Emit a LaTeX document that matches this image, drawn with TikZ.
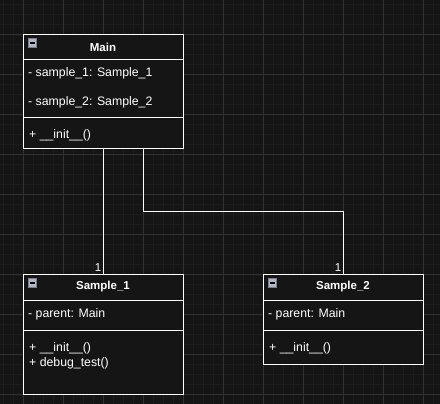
\documentclass[tikz,border=0pt]{standalone}
\usepackage{fontspec}
\setmainfont{Liberation Sans}
\definecolor{bgc}{RGB}{21,21,21}
\definecolor{minorc}{RGB}{28,28,28}
\definecolor{majorc}{RGB}{50,50,50}
\definecolor{iconc}{RGB}{176,182,196}
\definecolor{iconb}{RGB}{120,126,140}
\tikzset{
  classbox/.style={draw=white, line width=1pt, fill=bgc, inner sep=0pt, anchor=north west},
  divider/.style={draw=white, line width=1pt},
  title/.style={text=white, font=\fontsize{11.5}{13}\selectfont\bfseries, inner sep=0pt},
  member/.style={text=white, font=\fontsize{12.3}{14}\selectfont, inner sep=0pt, anchor=west},
  conn/.style={draw=white, line width=1pt},
  mult/.style={text=white, font=\fontsize{11.5}{13}\selectfont, inner sep=0pt},
  icon/.style={draw=iconb, fill=iconc, line width=0.6pt, minimum size=8.5pt, inner sep=0pt},
}
\newcommand{\collapseicon}[2]{%
  \node[icon] (#1) at (#2) {};
  \draw[black, line width=1.6pt] ([xshift=-2.5pt]#1.center) -- ([xshift=2.5pt]#1.center);
}
\begin{document}
\begin{tikzpicture}[x=1pt,y=1pt]
\useasboundingbox (0,0) rectangle (440,-404);
\fill[bgc] (0,0) rectangle (440,-404);
% minor grid
\foreach \x in {3,13,...,433} \draw[minorc, line width=0.8pt] (\x,0) -- (\x,-404);
\foreach \y in {4,14,...,404} \draw[minorc, line width=0.8pt] (0,-\y) -- (440,-\y);
% major grid
\foreach \x in {23,63,...,423} \draw[majorc, line width=0.8pt] (\x,0) -- (\x,-404);
\foreach \y in {34,74,...,394} \draw[majorc, line width=0.8pt] (0,-\y) -- (440,-\y);

% Main
\node[classbox, minimum width=160pt, minimum height=114pt] (main) at (23,-34) {};
\draw[divider] (23,-60) -- (183,-60);
\draw[divider] (23,-118) -- (183,-118);
\node[title] (mainT) at (103,-47) {Main};
\node[member] (mainA1) at (28,-73) {- sample\_1: Sample\_1};
\node[member] (mainA2) at (28,-102) {- sample\_2: Sample\_2};
\node[member] (mainM1) at (29,-135) {+ \_\_init\_\_()};
\collapseicon{mainI}{32.5,-43}

% Sample_1
\node[classbox, minimum width=160pt, minimum height=120pt] (s1) at (23,-274) {};
\draw[divider] (23,-300) -- (183,-300);
\draw[divider] (23,-330) -- (183,-330);
\node[title] (s1T) at (103,-287) {Sample\_1};
\node[member] (s1A1) at (28,-314) {- parent: Main};
\node[member] (s1M1) at (29,-348) {+ \_\_init\_\_()};
\node[member] (s1M2) at (29,-363) {+ debug\_test()};
\collapseicon{s1I}{32.5,-283}

% Sample_2
\node[classbox, minimum width=160pt, minimum height=90pt] (s2) at (263,-274) {};
\draw[divider] (263,-300) -- (423,-300);
\draw[divider] (263,-330) -- (423,-330);
\node[title] (s2T) at (343,-287) {Sample\_2};
\node[member] (s2A1) at (268,-314) {- parent: Main};
\node[member] (s2M1) at (269,-348) {+ \_\_init\_\_()};
\collapseicon{s2I}{272.5,-283}

% connectors
\draw[conn] (main.south) -- (s1.north);
\coordinate (m2) at ([xshift=40pt]main.south);
\draw[conn] (m2) -- ++(0,-63) -| (s2.north);
\node[mult, anchor=south east] (mu1) at ([xshift=-2pt,yshift=2pt]s1.north) {1};
\node[mult, anchor=south east] (mu2) at ([xshift=-2pt,yshift=2pt]s2.north) {1};
\end{tikzpicture}
\end{document}
